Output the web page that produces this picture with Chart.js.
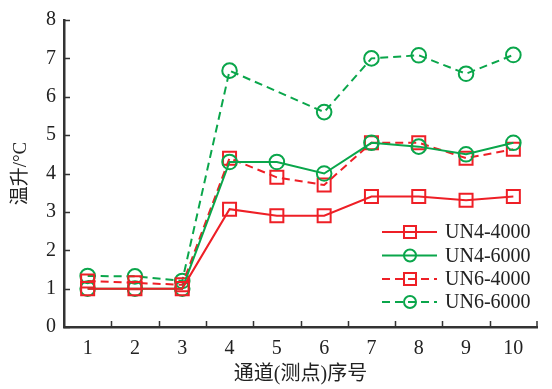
<!DOCTYPE html>
<html>
<head>
<meta charset="utf-8">
<script src="https://cdn.jsdelivr.net/npm/chart.js@4.4.0/dist/chart.umd.min.js"></script>
<style>
  html, body { margin:0; padding:0; background:#fff; }
  #wrap { width:552px; height:389px; }
</style>
</head>
<body>
<div id="wrap"><canvas id="c" width="552" height="389"></canvas></div>
<script>
// ---- data ----
const channels   = ['1','2','3','4','5','6','7','8','9','10'];
const un4_4000   = [1.0, 1.0, 1.0, 3.07, 2.9, 2.9, 3.4, 3.4, 3.3, 3.4];
const un4_6000   = [1.0, 1.0, 1.0, 4.3, 4.3, 4.0, 4.8, 4.7, 4.5, 4.8];
const un6_4000   = [1.2, 1.15, 1.1, 4.4, 3.9, 3.7, 4.8, 4.8, 4.4, 4.63];
const un6_6000   = [1.33, 1.32, 1.2, 6.68, null, 5.6, 7.0, 7.08, 6.6, 7.09];
const yTicks     = [0, 1, 2, 3, 4, 5, 6, 7, 8];

const RED   = '#ee1f26';
const GREEN = '#0aa64b';
const FONT  = "'Liberation Serif', 'Noto Sans CJK SC', serif";

function series(label, data, color, style, dashed) {
  return {
    label, data,
    borderColor: color, backgroundColor: 'rgba(0,0,0,0)',
    borderWidth: 2, borderDash: dashed ? [8, 5] : [],
    pointStyle: style, pointRadius: style === 'rect' ? 9.2 : 7.3,
    pointBorderColor: color, pointBackgroundColor: 'rgba(0,0,0,0)',
    pointBorderWidth: 2, tension: 0, spanGaps: true,
  };
}

// inside tick marks like the original plot
const innerTicks = {
  id: 'innerTicks',
  afterDraw(chart) {
    const { ctx, chartArea: a, scales: { x, y } } = chart;
    ctx.save();
    ctx.strokeStyle = '#333'; ctx.lineWidth = 1.5;
    ctx.beginPath();
    yTicks.forEach(v => {
      const py = Math.round(y.getPixelForValue(v)) + 0.5;
      ctx.moveTo(a.left, py); ctx.lineTo(a.left + 6, py);
    });
    for (let i = 1; i <= channels.length; i++) {
      const px = i < channels.length
        ? Math.round((x.getPixelForValue(i - 1) + x.getPixelForValue(i)) / 2) + 0.5
        : a.right;
      ctx.moveTo(px, a.bottom); ctx.lineTo(px, a.bottom - 6);
    }
    ctx.stroke();
    ctx.restore();
  }
};

// legend drawn inside the plot, bottom-right
const innerLegend = {
  id: 'innerLegend',
  afterDraw(chart) {
    const { ctx } = chart;
    const x0 = 382, x1 = 437, xm = 410, xt = 445;
    const rows = [232, 255.5, 279, 302];
    ctx.save();
    chart.data.datasets.forEach((ds, i) => {
      const yy = rows[i];
      ctx.strokeStyle = ds.borderColor; ctx.lineWidth = ds.borderWidth;
      ctx.setLineDash(ds.borderDash);
      ctx.beginPath(); ctx.moveTo(x0, yy); ctx.lineTo(x1, yy); ctx.stroke();
      ctx.setLineDash([]);
      ctx.fillStyle = 'rgba(0,0,0,0)';
      Chart.helpers.drawPoint(ctx, {
        pointStyle: ds.pointStyle,
        radius: ds.pointStyle === 'rect' ? 8.5 : 6,
        borderWidth: ds.pointBorderWidth, rotation: 0
      }, xm, yy);
      ctx.fillStyle = '#222';
      ctx.font = '20px ' + FONT;
      ctx.textBaseline = 'middle';
      ctx.fillText(ds.label, xt, yy + 1);
    });
    ctx.restore();
  }
};

new Chart(document.getElementById('c'), {
  type: 'line',
  data: {
    labels: channels,
    datasets: [
      series('UN4-4000', un4_4000, RED,   'rect',   false),
      series('UN4-6000', un4_6000, GREEN, 'circle', false),
      series('UN6-4000', un6_4000, RED,   'rect',   true),
      series('UN6-6000', un6_6000, GREEN, 'circle', true),
    ]
  },
  options: {
    responsive: false,
    animation: false,
    layout: { padding: { top: 17, right: 15, left: 0, bottom: 0 } },
    plugins: { legend: { display: false }, tooltip: { enabled: false } },
    scales: {
      x: {
        offset: true,
        grid: { display: false, drawTicks: false },
        border: { display: true, color: '#333', width: 2.5 },
        ticks: { color: '#222', font: { family: FONT, size: 20 }, padding: 10, maxRotation: 0, autoSkip: false },
        title: { display: true, text: '通道(测点)序号', color: '#222', font: { family: FONT, size: 20 }, padding: { top: 0, bottom: 2 } },
        afterFit(s) { s.height = 62; }
      },
      y: {
        min: 0, max: 8,
        afterBuildTicks(s) { s.ticks = yTicks.map(v => ({ value: v })); },
        grid: { display: false, drawTicks: false },
        border: { display: true, color: '#333', width: 2.5 },
        ticks: { color: '#222', font: { family: FONT, size: 20 }, padding: 8 },
        title: { display: true, text: '温升/°C', color: '#222', font: { family: FONT, size: 19 }, padding: { top: 10, bottom: 0 } },
        afterFit(s) { s.width = 64; }
      }
    }
  },
  plugins: [innerTicks, innerLegend]
});
</script>
</body>
</html>
